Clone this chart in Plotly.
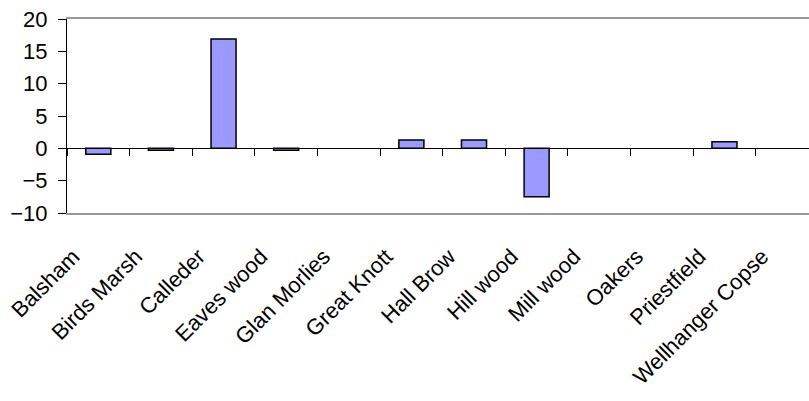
import plotly.graph_objects as go

categories = ["Balsham", "Birds Marsh", "Calleder", "Eaves wood", "Glan Morlies",
              "Great Knott", "Hall Brow", "Hill wood", "Mill wood", "Oakers",
              "Priestfield", "Wellhanger Copse"]
values = [-0.9, -0.3, 16.9, -0.3, None, 1.3, 1.3, -7.5, None, None, 1.0, None]
y_ticks = [-10, -5, 0, 5, 10, 15, 20]

FONT = "Liberation Sans, Arial, sans-serif"

fig = go.Figure()
fig.add_trace(go.Bar(
    x=categories, y=values, width=0.4,
    marker=dict(color="#9999FF", line=dict(color="black", width=1.5)),
    showlegend=False,
))
# helper trace for the zero-line axis with category boundary ticks
fig.add_trace(go.Scatter(
    x=categories, y=[0] * len(categories), xaxis="x2", mode="none",
    showlegend=False, hoverinfo="skip",
))

xrange = [-0.5, 11.35]
fig.update_layout(
    width=809, height=401,
    margin=dict(l=67, r=0, t=19, b=188),
    paper_bgcolor="white", plot_bgcolor="white",
    font=dict(family=FONT, size=22, color="black"),
    xaxis=dict(
        type="category", categoryorder="array", categoryarray=categories,
        range=xrange, showgrid=False, zeroline=False, automargin=False,
        showline=True, mirror=True, linecolor="#999999", linewidth=2,
        ticks="", tickangle=-45, tickfont=dict(size=22, family=FONT),
        ticklabelstandoff=20, ticklabelshift=-25, ticklabeloverflow="allow",
    ),
    xaxis2=dict(
        type="category", categoryorder="array", categoryarray=categories,
        range=xrange, overlaying="x", anchor="free", position=1/3,
        showgrid=False, zeroline=False, showline=True, linecolor="black",
        linewidth=1, ticks="outside", tickson="boundaries", ticklen=7,
        tickcolor="black", showticklabels=False, automargin=False,
    ),
    yaxis=dict(
        range=[-10, 20], tickvals=y_ticks, showgrid=False, zeroline=False,
        showline=True, linecolor="black", linewidth=1, automargin=False,
        ticks="outside", ticklen=8, tickcolor="black",
        tickfont=dict(size=22, family=FONT), ticklabeloverflow="allow",
        ticklabelstandoff=6,
    ),
)

fig.write_html(
    "out.html",
    config={"displayModeBar": False},
    post_script="document.body.style.margin='0';document.body.style.overflow='hidden';",
)
